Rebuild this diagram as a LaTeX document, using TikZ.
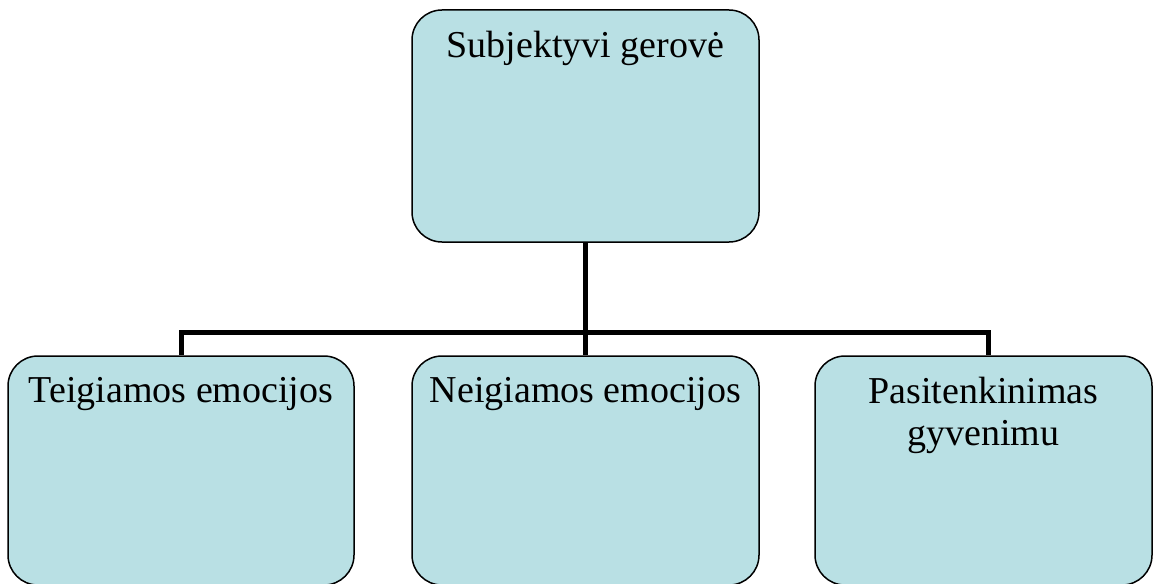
\documentclass[tikz,border=0pt]{standalone}
\usepackage{fontspec}
\setmainfont{Liberation Serif}
\usepackage{xcolor}
\usepackage{tikz}
\usetikzlibrary{positioning, calc}
\definecolor{boxblue}{RGB}{185,224,228}
\tikzstyle{item} = [draw=black, line width=1.5pt, fill=boxblue, rounded corners=30pt, inner sep=0pt]
\tikzstyle{itemtext} = [anchor=north, inner sep=0pt, align=center, font=\fontsize{38}{42}\selectfont]
\tikzstyle{link} = [line width=5pt]

\begin{document}
\begin{tikzpicture}[x=1pt, y=1pt]
    \useasboundingbox (0,0) rectangle (1155,-583);

    % Top box
    \node[item, minimum width=347pt, minimum height=232pt] (wellbeing) at (585.5,-126) {};
    \node[itemtext] (wellbeingText) at ($(wellbeing.north)+(0,-22)$) {Subjektyvi gerovė};

    % Bottom boxes
    \node[item, minimum width=346pt, minimum height=229pt] (positive) at (181,-470.5) {};
    \node[itemtext] (positiveText) at ($(positive.north)+(0,-22)$) {Teigiamos emocijos};

    \node[item, minimum width=347pt, minimum height=229pt] (negative) at (585.5,-470.5) {};
    \node[itemtext] (negativeText) at ($(negative.north)+(0,-22)$) {Neigiamos emocijos};

    \node[item, minimum width=337pt, minimum height=229pt] (satisfaction) at (983.5,-470.5) {};
    \node[itemtext] (satisfactionText) at ($(satisfaction.north)+(0,-22)$) {Pasitenkinimas\\gyvenimu};

    % Connectors
    \coordinate (bar) at (585.5,-332);
    \coordinate (rightDrop) at ($(satisfaction.north)+(4.5,0)$);
    \draw[link] (wellbeing.south) -- (bar);
    \draw[link] (positive.north) |- (bar) -| (rightDrop);
    \draw[link] (bar) -- (negative.north);
\end{tikzpicture}
\end{document}
